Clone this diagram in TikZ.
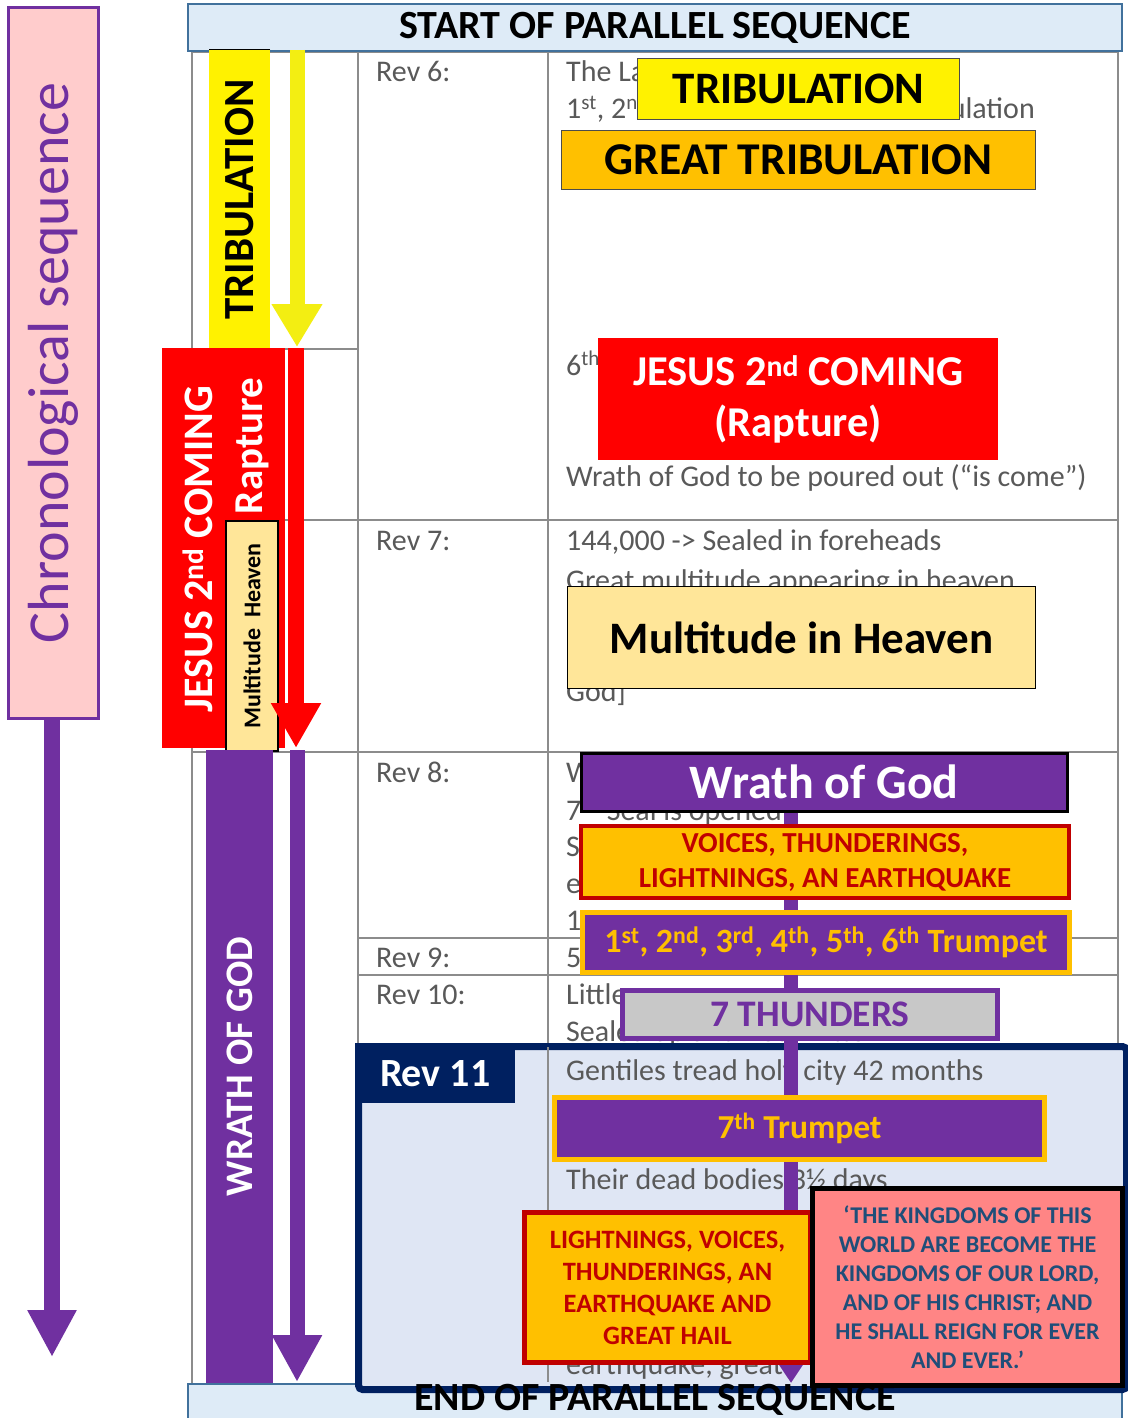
\documentclass[tikz,border=0pt]{standalone}
\usepackage{fontspec}
\setmainfont{Carlito}
\usetikzlibrary{arrows.meta}
\definecolor{purp}{HTML}{7030A0}
\definecolor{orng}{HTML}{FFC000}
\definecolor{dred}{HTML}{C00000}
\definecolor{navy}{HTML}{002060}
\definecolor{barblue}{HTML}{DEEBF7}
\definecolor{barline}{HTML}{41719C}
\definecolor{revfill}{HTML}{DFE6F4}
\definecolor{lyel}{HTML}{FFE699}
\definecolor{pinkbox}{HTML}{FF8585}
\definecolor{kingtxt}{HTML}{1F4E79}
\definecolor{chronfill}{HTML}{FFCCCC}
\definecolor{txtgray}{HTML}{595959}
\definecolor{tgray}{HTML}{8C8C8C}
\definecolor{thgray}{HTML}{C8C8C8}
\definecolor{yarrow}{HTML}{F3EE12}
\newcommand{\fs}[2]{\fontsize{#1}{#2}\selectfont}
\begin{document}
\begin{tikzpicture}[x=1pt,y=-1pt,
  tline/.style={draw=tgray, line width=1.3pt},
  tabtxt/.style={anchor=base west, font=\fs{30}{34}, text=txtgray, inner sep=0pt},
  nwbox/.style={anchor=north west, inner sep=0pt, align=center},
  vbar/.style={rotate=90, inner sep=0pt, align=center},
  bigarrow/.style={line width=#1}
]
\useasboundingbox (0,0) rectangle (1127,1418);
\fill[white] (0,0) rectangle (1127,1418);

% ---------- table grid ----------
\draw[tline] (192,50) -- (192,1383);
\draw[tline] (358,50) -- (358,1045);
\draw[tline] (548,50) -- (548,1045);
\draw[tline] (1118,50) -- (1118,1045);
\draw[tline] (192,52) -- (1118,52);
\draw[tline] (192,349) -- (358,349);
\draw[tline] (192,520) -- (1118,520);
\draw[tline] (192,752) -- (1118,752);
\draw[tline] (358,938) -- (1118,938);
\draw[tline] (358,975) -- (1118,975);

% ---------- table texts ----------
\node[tabtxt] (r6) at (376,82) {Rev 6:};
\node[tabtxt] (t1) at (566,82) {The La};
\node[tabtxt] (t2) at (566,119) {1\textsuperscript{st}, 2\textsuperscript{nd}};
\node[tabtxt, anchor=base east] (t3) at (1035,119) {ulation};
\node[tabtxt] (t4) at (566,375) {6\textsuperscript{th}};
\node[tabtxt] (t5) at (566,486) {Wrath of God to be poured out (“is come”)};
\node[tabtxt] (r7) at (376,550) {Rev 7:};
\node[tabtxt] (t6) at (566,550) {144,000 -> Sealed in foreheads};
\node[tabtxt] (t7) at (566,590) {Great multitude appearing in heaven};
\node[tabtxt] (t8) at (566,701) {God]};
\node[tabtxt] (r8) at (376,782) {Rev 8:};
\node[tabtxt] (t9) at (566,782) {W};
\node[tabtxt] (t10) at (566,820) {7\textsuperscript{th} Seal is opened};
\node[tabtxt] (t11) at (566,856) {S};
\node[tabtxt] (t12) at (566,893) {e};
\node[tabtxt] (t13) at (566,930) {1};
\node[tabtxt] (r9) at (376,967) {Rev 9:};
\node[tabtxt] (t14) at (566,967) {5};
\node[tabtxt] (r10) at (376,1004) {Rev 10:};
\node[tabtxt] (t15) at (566,1004) {Little};
\node[tabtxt] (t16) at (566,1041) {Sealed up and not written};

% ---------- top / bottom bars ----------
\node[nwbox, fill=barblue, draw=barline, line width=2pt, minimum width=934, minimum height=47,
      font=\fs{40}{44}\bfseries] (start) at (187,3) {START OF PARALLEL SEQUENCE};
\node[nwbox, fill=barblue, draw=barline, line width=2pt, minimum width=934, minimum height=45]
      (endbar) at (187,1383) {};

% ---------- Rev 11 box ----------
\node[nwbox, fill=revfill, draw=navy, line width=7pt, rounded corners=4pt,
      minimum width=768, minimum height=343] (rev11) at (355,1043) {};
\node[nwbox, fill=navy, text=white, minimum width=160, minimum height=60,
      font=\fs{40}{44}\bfseries] (rev11tab) at (355,1043) {Rev 11};
\draw[tline] (548,1047) -- (548,1382);
\node[tabtxt] (t17) at (566,1080) {Gentiles tread holy city 42 months};
\node[tabtxt] (t18) at (566,1189) {Their dead bodies 3½ days};
\node[tabtxt] (t19) at (566,1374) {earthquake, great};
\node[font=\fs{40}{44}\bfseries, inner sep=0pt, anchor=base] (endtxt) at (655,1410) {END OF PARALLEL SEQUENCE};

% ---------- left chronological column ----------
\node[vbar, fill=chronfill, draw=purp, line width=3pt, minimum width=710, minimum height=90,
      text=purp, font=\fs{58}{62}] (chron) at (53,363) {Chronological sequence};
\coordinate (chronend) at (52,1357);
\draw[bigarrow=16pt, purp, -{Triangle[width=46pt,length=47pt]}] (chron.west -| chronend) -- (chronend);

% ---------- left vertical bars ----------
\node[vbar, fill=yellow, minimum width=299, minimum height=61,
      font=\fs{43}{46}\bfseries] (tribL) at (239.5,199.5) {TRIBULATION};
\draw[black, line width=1pt] (tribL.south east) -- (tribL.north east);
\coordinate (ya0) at (297,50);
\coordinate (ya1) at (297,347);
\draw[bigarrow=15pt, yarrow, -{Triangle[width=48pt,length=43pt]}] (ya0) -- (ya1);

\node[nwbox, fill=red, minimum width=123, minimum height=400] (redL) at (162,348) {};
\node[vbar, text=white, font=\fs{42}{46}\bfseries] (jesusL) at (198,549) {JESUS 2\textsuperscript{nd} COMING};
\node[vbar, text=white, font=\fs{41}{44}\bfseries] (raptL) at (252,446) {Rapture};
\node[vbar, fill=lyel, draw=black, line width=1.2pt, minimum width=230, minimum height=52,
      font=\fs{24}{28}\bfseries] (multL) at (252,636) {Multitude\ \ Heaven};
\coordinate (ra0) at (296,348);
\coordinate (ra1) at (296,748);
\draw[bigarrow=16pt, red, -{Triangle[width=47pt,length=45pt]}] (ra0) -- (ra1);

\node[vbar, fill=purp, text=white, minimum width=633, minimum height=67,
      font=\fs{39}{44}\bfseries] (wrathL) at (239.5,1066.5) {WRATH OF GOD};
\coordinate (pa0) at (297,750);
\coordinate (pa1) at (297,1382);
\draw[bigarrow=15pt, purp, -{Triangle[width=47pt,length=47pt]}] (pa0) -- (pa1);

% ---------- right boxes ----------
\node[nwbox, fill=purp, draw=black, line width=2.5pt, minimum width=486, minimum height=58,
      text=white, font=\fs{48}{52}\bfseries] (wrathR) at (580,752) {Wrath of God};
\coordinate (cend) at (791,1383);
\draw[bigarrow=14pt, purp, -{Triangle[width=30pt,length=24pt]}] (wrathR.south -| cend) -- (cend);

\node[nwbox, fill=yellow, draw=black!70, line width=1pt, minimum width=322, minimum height=61,
      font=\fs{45}{48}\bfseries] (tribR) at (637,58) {TRIBULATION};
\node[nwbox, fill=orng, draw=black!70, line width=1pt, minimum width=474, minimum height=59,
      font=\fs{45.5}{48}\bfseries] (gtrib) at (561,130) {GREAT TRIBULATION};
\node[nwbox, fill=red, minimum width=400, minimum height=122, text=white,
      font=\fs{42.5}{51}\bfseries] (jesusR) at (598,338) {JESUS 2\textsuperscript{nd} COMING\\(Rapture)};
\node[nwbox, fill=lyel, draw=black, line width=1.2pt, minimum width=468, minimum height=102,
      font=\fs{45}{48}\bfseries] (multR) at (567,586) {Multitude in Heaven};

\node[nwbox, fill=orng, draw=dred, line width=4pt, minimum width=488, minimum height=72,
      text=dred, font=\fs{29}{35}\bfseries] (voices) at (579,824) {VOICES, THUNDERINGS,\\LIGHTNINGS, AN EARTHQUAKE};
\node[nwbox, fill=purp, draw=orng, line width=5pt, minimum width=487, minimum height=60,
      text=orng, font=\fs{34}{38}\bfseries] (trump6) at (580,910)
      {1\textsuperscript{st}, 2\textsuperscript{nd}, 3\textsuperscript{rd}, 4\textsuperscript{th}, 5\textsuperscript{th}, 6\textsuperscript{th} Trumpet};
\node[nwbox, fill=thgray, draw=purp, line width=5pt, minimum width=375, minimum height=48,
      text=purp, font=\fs{37.5}{40}\bfseries] (thunders) at (620,988) {7 THUNDERS};
\node[nwbox, fill=purp, draw=orng, line width=5pt, minimum width=490, minimum height=62,
      text=orng, font=\fs{33.5}{36}\bfseries] (trump7) at (552,1095) {7\textsuperscript{th} Trumpet};
\node[nwbox, fill=orng, draw=dred, line width=5pt, minimum width=286, minimum height=150,
      text=dred, font=\fs{26.5}{32}\bfseries] (lightn) at (522,1210)
      {LIGHTNINGS, VOICES,\\THUNDERINGS, AN\\EARTHQUAKE AND\\GREAT HAIL};
\node[nwbox, fill=pinkbox, draw=black, line width=5pt, minimum width=310, minimum height=197,
      text=kingtxt, font=\fs{24}{29}\bfseries] (kingdoms) at (810,1186)
      {‘THE KINGDOMS OF THIS\\WORLD ARE BECOME THE\\KINGDOMS OF OUR LORD,\\AND OF HIS CHRIST; AND\\HE SHALL REIGN FOR EVER\\AND EVER.’};
\end{tikzpicture}
\end{document}
